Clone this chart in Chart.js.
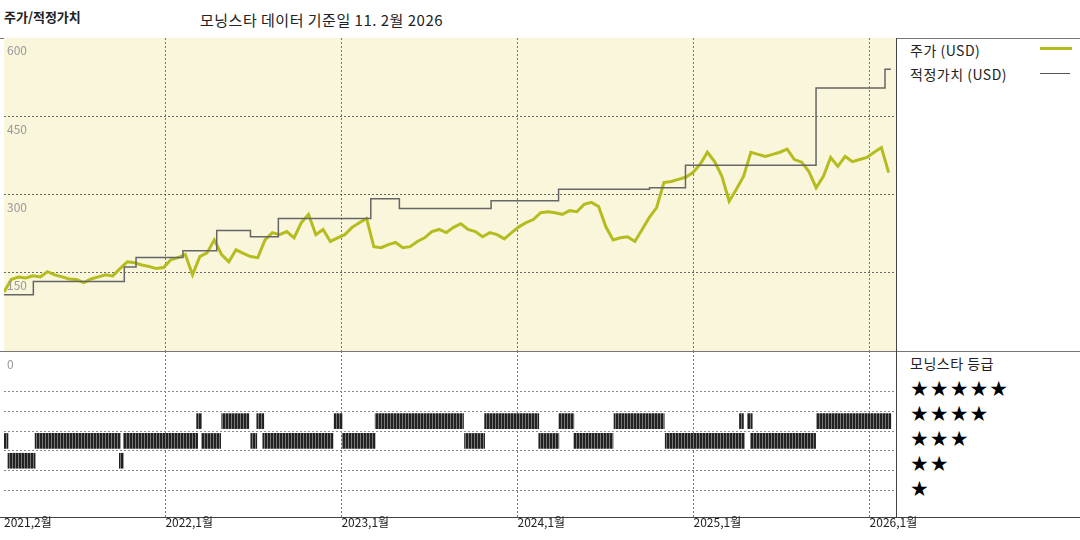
<!DOCTYPE html>
<html>
<head>
<meta charset="utf-8">
<script src="https://cdn.jsdelivr.net/npm/chart.js@4"></script>
<style>
  body { margin: 0; width: 1080px; height: 540px; background: #fff; font-family: "Noto Sans CJK KR", "DejaVu Sans", sans-serif; position: relative; overflow: hidden; }
  .t { position: absolute; white-space: nowrap; color: #222; }
  .yl { position: absolute; font-size: 12px; color: #999; left: 7px; }
  .xl { position: absolute; font-size: 12px; color: #222; top: 513px; }
  .hl { position: absolute; background: #444; height: 1px; }
  .star { position: absolute; left: 910px; font-size: 21px; color: #000; letter-spacing: 1px; font-family: "DejaVu Sans", sans-serif; }
</style>
</head>
<body>
<div class="t" style="left:4px;top:7px;font-size:13px;font-weight:bold;">주가/적정가치</div>
<div class="t" style="left:200px;top:9px;font-size:15px;letter-spacing:0.5px;">모닝스타 데이터 기준일 11. 2월 2026</div>

<div class="hl" style="left:0;top:38px;width:1080px;background:#777"></div>
<div class="hl" style="left:0;top:351px;width:1080px;background:#777"></div>
<div class="hl" style="left:0;top:517px;width:1080px;"></div>
<div style="position:absolute;left:896px;top:38px;width:1px;height:480px;background:#444"></div>

<div style="position:absolute;left:4px;top:38px;width:892px;height:313px;background:#f9f6dc">
  <canvas id="priceChart"></canvas>
</div>
<div style="position:absolute;left:4px;top:351px;width:892px;height:166px;">
  <canvas id="ratingChart"></canvas>
</div>

<div class="yl" style="top:41px">600</div>
<div class="yl" style="top:120px">450</div>
<div class="yl" style="top:198px">300</div>
<div class="yl" style="top:276px">150</div>
<div class="yl" style="top:355px">0</div>

<div class="t" style="left:910px;top:40px;font-size:14px;letter-spacing:0.5px;">주가 (USD)</div>
<div style="position:absolute;left:1040px;top:47px;width:32px;height:3px;background:#b5bd1e"></div>
<div class="t" style="left:910px;top:64px;font-size:14px;letter-spacing:0.5px;">적정가치 (USD)</div>
<div style="position:absolute;left:1040px;top:73px;width:30px;height:1px;background:#555"></div>

<div class="t" style="left:910px;top:353px;font-size:14px;letter-spacing:0.5px;">모닝스타 등급</div>
<div class="star" style="top:377px">★★★★★</div>
<div class="star" style="top:402px">★★★★</div>
<div class="star" style="top:427px">★★★</div>
<div class="star" style="top:452px">★★</div>
<div class="star" style="top:477px">★</div>

<div id="xlabels"></div>

<script>
// months counted from Jan 2021 = 0 (so Feb 2021 = 1)
const xStart = 1;
const tickMonths = [1, 12, 24, 36, 48, 60];
const tickLabels = ['2021,2월', '2022,1월', '2023,1월', '2024,1월', '2025,1월', '2026,1월'];

// share price (USD), sampled about every half month from Feb 2021
const priceValues = [
  113, 137, 142, 140, 144, 142, 152, 146, 142, 138, 137, 131, 138, 142, 146, 144,
  158, 171, 169, 165, 162, 158, 160, 175,
  179, 185, 146, 181, 188, 213, 185, 171, 194, 187, 181, 179, 213, 227, 223, 229,
  217, 246, 262, 223, 233, 210, 217, 223, 237, 246,
  254, 200, 198, 204, 208, 198, 200, 210, 217, 229, 233, 227, 237, 244, 233, 229,
  219, 227, 223, 215, 227, 238, 246, 252, 265,
  267, 265, 262, 269, 267, 281, 285, 277, 238, 213, 217, 219, 210, 233, 256, 275,
  323, 325, 329, 333, 342, 358, 381,
  363, 335, 287, 310, 335, 381, 377, 373, 377, 381, 387, 367, 362, 344, 313, 335,
  371, 354, 373, 363, 367, 371, 381, 390, 342
];
const priceEnd = 61.3;

// fair value steps: [from month, to month, value]
const fairFrom = [1, 3.0, 9.2, 10.0, 13.2, 15.5, 17.8, 19.7, 26.0, 27.95, 34.2, 38.8, 45.0, 47.45, 56.35, 61.05];
const fairTo = [3.0, 9.2, 10.0, 13.2, 15.5, 17.8, 19.7, 26.0, 27.95, 34.2, 38.8, 45.0, 47.45, 56.35, 61.05, 61.45];
const fairValues = [108, 133, 161, 179, 192, 231, 219, 254, 292, 273, 288, 310, 313, 356, 504, 540];

// Morningstar rating periods: [from month, to month]
const rating4 = [[14.13, 14.47], [15.84, 17.69], [18.23, 18.71], [23.5, 24.05], [26.3, 32.32], [33.76, 37.45],
  [38.82, 39.84], [42.58, 46.0], [51.13, 51.4], [51.67, 52.0], [56.39, 61.45]];
const rating3 = [[1, 1.27], [3.12, 8.93], [9.14, 14.2], [14.47, 15.77], [17.82, 18.23], [18.64, 23.43],
  [24.05, 26.3], [32.39, 33.76], [37.45, 38.82], [39.84, 42.51], [46.07, 51.47], [51.88, 56.32]];
const rating2 = [[1.27, 3.12], [8.86, 9.14]];

const xMax = 61.8;
const priceStep = (priceEnd - xStart) / (priceValues.length - 1);
const pricePoints = priceValues.map((v, i) => ({ x: xStart + i * priceStep, y: v }));
const fairPoints = [];
fairValues.forEach((v, i) => {
  fairPoints.push({ x: fairFrom[i], y: v });
  fairPoints.push({ x: fairTo[i], y: v });
});

const gridX = {
  type: 'linear', min: xStart, max: xMax,
  afterBuildTicks: (axis) => { axis.ticks = tickMonths.slice(1).map(v => ({ value: v })); },
  ticks: { display: false },
  grid: { color: '#777', drawTicks: false, lineWidth: 1 },
  border: { display: false, dash: [2, 2] }
};

const xl = document.getElementById('xlabels');
tickMonths.forEach((m, i) => {
  const d = document.createElement('div');
  d.className = 'xl';
  d.style.left = (4 + (m - xStart) / (xMax - xStart) * 892) + 'px';
  d.textContent = tickLabels[i];
  xl.appendChild(d);
});

new Chart(document.getElementById('priceChart'), {
  type: 'line',
  data: {
    datasets: [
      { data: fairPoints, borderColor: '#666', borderWidth: 1.5, pointRadius: 0, tension: 0 },
      { data: pricePoints, borderColor: '#b5bd1e', borderWidth: 3, pointRadius: 0, tension: 0 }
    ]
  },
  options: {
    responsive: true, maintainAspectRatio: false, animation: false,
    layout: { padding: 0 },
    plugins: { legend: { display: false }, tooltip: { enabled: false } },
    scales: {
      x: gridX,
      y: {
        min: 0, max: 600,
        afterBuildTicks: (axis) => { axis.ticks = [150, 300, 450].map(v => ({ value: v })); },
        ticks: { display: false },
        grid: { color: '#666', drawTicks: false },
        border: { display: false, dash: [2, 2] }
      }
    }
  }
});

// striped fill for the rating bars
const pc = document.createElement('canvas');
pc.width = 3; pc.height = 4;
const pctx = pc.getContext('2d');
pctx.fillStyle = '#777'; pctx.fillRect(0, 0, 3, 4);
pctx.fillStyle = '#222'; pctx.fillRect(0, 0, 2, 4);
const stripes = pctx.createPattern(pc, 'repeat');

const toBars = (list, r) => list.map(s => ({ x: s, y: r }));

new Chart(document.getElementById('ratingChart'), {
  type: 'bar',
  data: {
    datasets: [
      { data: toBars(rating4, 4).concat(toBars(rating3, 3), toBars(rating2, 2)),
        backgroundColor: stripes, borderWidth: 0, barThickness: 15, borderSkipped: false }
    ]
  },
  options: {
    indexAxis: 'y',
    responsive: true, maintainAspectRatio: false, animation: false,
    layout: { padding: 0 },
    plugins: { legend: { display: false }, tooltip: { enabled: false } },
    scales: {
      x: gridX,
      y: {
        type: 'linear', min: 0, max: 6.7,
        afterBuildTicks: (axis) => { axis.ticks = [1, 2, 3, 4, 5].map(v => ({ value: v })); },
        ticks: { display: false },
        grid: { color: '#888', drawTicks: false },
        border: { display: false, dash: [2, 2] }
      }
    }
  }
});
</script>
</body>
</html>
